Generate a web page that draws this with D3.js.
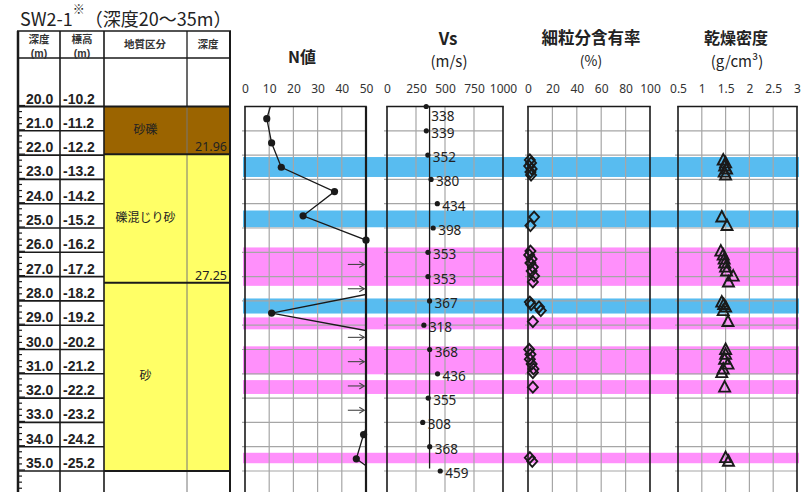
<!DOCTYPE html>
<html><head><meta charset="utf-8">
<script src="https://cdn.jsdelivr.net/npm/d3@7"></script>
<style>
body{margin:0;background:#fff;}
svg{display:block;font-family:"Noto Sans","Noto Sans CJK JP",sans-serif;}
</style>
</head><body><svg id="c" width="805" height="492"></svg>
<script>
// ---------- data ----------
const depthRows = [20,21,22,23,24,25,26,27,28,29,30,31,32,33,34,35];
const elevLabels = ["-10.2","-11.2","-12.2","-13.2","-14.2","-15.2","-16.2","-17.2","-18.2","-19.2","-20.2","-21.2","-22.2","-23.2","-24.2","-25.2"];
const layerNames = ["砂礫","礫混じり砂","砂"];
const layerTops = [20, 21.96, 27.25];
const layerBottoms = [21.96, 27.25, 35];
const layerBottomLabels = ["21.96","27.25",""];
const layerColors = ["#9b6400","#ffff66","#ffff66"];

const bandTops    = [22.08, 24.28, 25.80, 27.90, 28.68, 29.87, 31.26, 34.25];
const bandBottoms = [22.90, 24.97, 27.38, 28.52, 29.17, 31.02, 31.83, 34.68];
const bandTypes   = ["blue","blue","pink","blue","pink","pink","pink","pink"];

const nTicks = [0,10,20,30,40,50];
const vsTicks = [0,250,500,750,1000];
const fcTicks = [0,20,40,60,80,100];
const rhoTicks = [0.5,1,1.5,2,2.5,3];

const nDepths = [19.5,20.5,21.5,22.5,23.5,24.5,25.5,26.5,27.5,28.5,29.5,30.5,31.5,32.5,33.5,34.5,35.5];
const nValues = [12,9,11,15,37,24,50,60,62,11,65,62,60,53,49,46,60];
const nArrowDepths = [26.5,27.5,29.5,30.5,31.5,32.5];

const vsDepths = [20,21,22,23,24,25,26,27,28,29,30,31,32,33,34,35];
const vsValues = [338,339,352,380,434,398,353,353,367,318,368,436,355,308,368,459];
const vsAverage = 367;
const vsAverageRange = [20, 34.9];

const labDepths = [22.20,22.32,22.45,22.57,22.70,22.82,
  24.55,24.90,
  25.95,26.11,26.28,26.44,26.61,26.77,26.98,27.22,
  28.05,28.15,28.25,28.40,
  28.85,
  30.00,30.20,30.40,30.60,30.80,30.95,
  31.55,
  34.45,34.60];
const fcValues = [1.5,2.5,1,3,2,2.5,
  5,2,
  2,1,3,2,4,3,5,4,
  1.5,2.5,9,10.5,
  4,
  1,2,1.5,3,4.5,4,
  4,
  1.5,3.5];
const rhoValues = [1.45,1.50,1.48,1.52,1.47,1.50,
  1.42,1.53,
  1.40,1.45,1.47,1.48,1.50,1.52,1.66,1.56,
  1.42,1.46,1.50,1.45,
  1.55,
  1.50,1.50,1.48,1.55,1.45,1.42,
  1.48,
  1.50,1.56];

// ---------- scales ----------
const svg = d3.select("#c");
const y = d3.scaleLinear().domain([20,35]).range([106.5,471]);
const xN = d3.scaleLinear().domain([0,50]).range([245,366]);
const xVs = d3.scaleLinear().domain([0,1000]).range([387,503]);
const xFc = d3.scaleLinear().domain([0,100]).range([528,650]);
const xRho = d3.scaleLinear().domain([0.5,3]).range([678,797]);
const bottomY = 495;
const ink = "#1a1a1a";

// ---------- title ----------
const title = svg.append("text").attr("x",20).attr("y",26).attr("font-size",18)
  .attr("font-family","'Noto Sans CJK JP',sans-serif").attr("fill","#222");
title.append("tspan").text("SW2-1");
title.append("tspan").attr("font-size",12).attr("dy",-12).text("※");
title.append("tspan").attr("dy",12).text("（深度20～35m）");

// ---------- left table ----------
const T = svg.append("g");
T.selectAll("rect.layer").data(layerNames).join("rect")
  .attr("x",104).attr("width",126)
  .attr("y",(d,i)=>y(layerTops[i])).attr("height",(d,i)=>y(layerBottoms[i])-y(layerTops[i]))
  .attr("fill",(d,i)=>layerColors[i]);
[[18,2.5,ink],[60,1.6,ink],[104,1.6,ink],[187,1,"#777"],[230,2,ink]].forEach(([x,w,c])=>{
  T.append("line").attr("x1",x).attr("x2",x).attr("y1",31).attr("y2",492)
   .attr("stroke",c).attr("stroke-width",w);
});
T.append("line").attr("x1",187).attr("x2",187).attr("y1",31).attr("y2",107).attr("stroke",ink).attr("stroke-width",1);
[[31,1.5],[58,1.5],[y(20),2]].forEach(([yy,w])=>{
  T.append("line").attr("x1",17).attr("x2",231).attr("y1",yy).attr("y2",yy).attr("stroke",ink).attr("stroke-width",w);
});
T.selectAll("line.row").data(depthRows.slice(1)).join("line")
  .attr("x1",18).attr("x2",104).attr("y1",d=>y(d)).attr("y2",d=>y(d))
  .attr("stroke",ink).attr("stroke-width",1.6);
T.selectAll("line.lb").data(layerBottoms).join("line")
  .attr("x1",104).attr("x2",230).attr("y1",d=>y(d)).attr("y2",d=>y(d))
  .attr("stroke",ink).attr("stroke-width",2);
const rulerTicks = d3.range(20,36.01,0.25);
T.selectAll("line.rt").data(rulerTicks).join("line")
  .attr("x1",19).attr("x2",d=>Math.abs(d-Math.round(d))<1e-6?25:22)
  .attr("y1",d=>y(d)-1).attr("y2",d=>y(d)-1).attr("stroke",ink).attr("stroke-width",1.2);
// headers
const hdrJ = [["深度",39,40],["標高",82,40],["地質区分",145,45],["深度",208,45]];
T.selectAll("text.hdr").data(hdrJ).join("text")
  .attr("x",d=>d[1]).attr("y",d=>d[2]).attr("text-anchor","middle").attr("dominant-baseline","middle")
  .attr("font-size",10.5).attr("font-weight","bold").attr("fill","#333")
  .attr("font-family","'Noto Sans CJK JP',sans-serif").text(d=>d[0]);
const hdrU = [["(m)",39],["(m)",82]];
T.selectAll("text.hdu").data(hdrU).join("text")
  .attr("x",d=>d[1]).attr("y",57).attr("text-anchor","middle")
  .attr("font-size",10.5).attr("font-weight","bold").attr("fill","#333")
  .attr("font-family","'Liberation Sans',Arial,sans-serif").text(d=>d[0]);
T.selectAll("text.dl").data(depthRows).join("text")
  .attr("x",26).attr("y",d=>y(d)-3).attr("font-size",14).attr("font-weight","bold")
  .attr("font-family","'Liberation Sans',Arial,sans-serif").attr("fill","#222")
  .text(d=>d.toFixed(1));
T.selectAll("text.el").data(elevLabels).join("text")
  .attr("x",63).attr("y",(d,i)=>y(depthRows[i])-3).attr("font-size",14).attr("font-weight","bold")
  .attr("font-family","'Liberation Sans',Arial,sans-serif").attr("fill","#222")
  .text(d=>d);
T.selectAll("text.ln").data(layerNames).join("text")
  .attr("x",145.5).attr("y",(d,i)=>y((layerTops[i]+layerBottoms[i])/2)).attr("text-anchor","middle")
  .attr("dominant-baseline","middle").attr("font-size",12).attr("fill","#222")
  .attr("font-family","'Noto Sans CJK JP',sans-serif").text(d=>d);
T.selectAll("text.lbl").data(layerBottomLabels).join("text")
  .attr("x",227).attr("y",(d,i)=>y(layerBottoms[i])-3).attr("text-anchor","end")
  .attr("font-size",12.5).attr("fill","#222").attr("font-family","'Noto Sans',sans-serif").text(d=>d);

// ---------- bands ----------
const bandColor = {blue:"#58bcf0", pink:"#ff90fb"};
svg.append("g").selectAll("rect").data(bandTops).join("rect")
  .attr("x",243).attr("width",556)
  .attr("y",d=>y(d)).attr("height",(d,i)=>y(bandBottoms[i])-y(d))
  .attr("fill",(d,i)=>bandColor[bandTypes[i]]);

// ---------- panels ----------
const panels = [
  {sc:xN, ticks:nTicks, fmt:d3.format("d"), rw:2.2},
  {sc:xVs, ticks:vsTicks, fmt:d3.format("d"), rw:1.6},
  {sc:xFc, ticks:fcTicks, fmt:d3.format("d"), rw:1.6},
  {sc:xRho, ticks:rhoTicks, fmt:d=>String(d), rw:1.6}
];
const gridDepths = d3.range(21,36);
panels.forEach(p=>{
  const g = svg.append("g");
  const [x0,x1] = p.sc.range();
  g.selectAll("line.vg").data(p.ticks.slice(1,-1)).join("line")
    .attr("x1",d=>p.sc(d)).attr("x2",d=>p.sc(d)).attr("y1",y(20)).attr("y2",bottomY)
    .attr("stroke","#a6a6a6").attr("stroke-width",1.2);
  g.selectAll("line.hg").data(gridDepths).join("line")
    .attr("x1",x0-3).attr("x2",x1).attr("y1",d=>y(d)).attr("y2",d=>y(d))
    .attr("stroke","#a6a6a6").attr("stroke-width",1.2);
  g.append("line").attr("x1",x0).attr("x2",x0).attr("y1",y(20)).attr("y2",bottomY).attr("stroke",ink).attr("stroke-width",1.6);
  g.append("line").attr("x1",x1).attr("x2",x1).attr("y1",y(20)).attr("y2",bottomY).attr("stroke",ink).attr("stroke-width",p.rw);
  g.append("line").attr("x1",x0-0.8).attr("x2",x1+0.8).attr("y1",y(20)).attr("y2",y(20)).attr("stroke",ink).attr("stroke-width",1.6);
  const ax = svg.append("g").attr("transform","translate(0,96)")
    .call(d3.axisTop(p.sc).tickValues(p.ticks).tickSize(0).tickPadding(3).tickFormat(p.fmt));
  ax.select(".domain").remove();
  ax.selectAll("text").attr("font-size",12).attr("fill","#333").attr("font-family","'Noto Sans',sans-serif");
});

const titles = [
  ["N値",302,58.5,16,"bold"],
  ["Vs",448,40,17,"bold"],["(m/s)",449,62.5,15,"normal"],
  ["細粒分含有率",591,40,16.5,"bold"],["(%)",591,62.5,14,"normal"],
  ["乾燥密度",736,40,16,"bold"],["(g/cm³)",737,62.5,15,"normal"]
];
svg.selectAll("text.pt").data(titles).join("text")
  .attr("x",d=>d[1]).attr("y",d=>d[2]).attr("text-anchor","middle").attr("dominant-baseline","middle")
  .attr("font-size",d=>d[3]).attr("font-weight",d=>d[4]).attr("fill","#222")
  .attr("font-family","'Noto Sans CJK JP',sans-serif").text(d=>d[0]);

// ---------- N value ----------
svg.append("clipPath").attr("id","clipN").append("rect")
  .attr("x",xN(0)).attr("y",y(20)).attr("width",xN(50)-xN(0)+1).attr("height",bottomY-y(20));
const nData = nDepths.map((d,i)=>({d, v:nValues[i]}));
svg.append("path").datum(nData).attr("clip-path","url(#clipN)")
  .attr("d",d3.line().x(p=>xN(p.v)).y(p=>y(p.d)))
  .attr("fill","none").attr("stroke",ink).attr("stroke-width",1.3);
svg.append("g").selectAll("circle").data(nData.filter(p=>p.v<=50 && p.d>=20)).join("circle")
  .attr("cx",p=>xN(p.v)).attr("cy",p=>y(p.d)).attr("r",3.6).attr("fill",ink);
const arr = svg.append("g").attr("stroke","#444").attr("stroke-width",1.1).attr("fill","none");
nArrowDepths.forEach(d=>{
  const yy = y(d), xa = xN(42.5), xb = xN(49.3);
  arr.append("line").attr("x1",xa).attr("x2",xb).attr("y1",yy).attr("y2",yy);
  arr.append("path").attr("d",`M${xb-5},${yy-3}L${xb},${yy}L${xb-5},${yy+3}`);
});

// ---------- Vs ----------
svg.append("line").attr("x1",xVs(vsAverage)).attr("x2",xVs(vsAverage))
  .attr("y1",y(vsAverageRange[0])).attr("y2",y(vsAverageRange[1])).attr("stroke",ink).attr("stroke-width",1.3);
const vsData = vsDepths.map((d,i)=>({d, v:vsValues[i]}));
svg.append("g").selectAll("circle").data(vsData).join("circle")
  .attr("cx",p=>xVs(p.v)).attr("cy",p=>y(p.d)).attr("r",2.6).attr("fill",ink);
svg.append("g").selectAll("text").data(vsData).join("text")
  .attr("x",p=>xVs(p.v)+5).attr("y",p=>Math.max(y(p.d)+7, y(20)+14))
  .attr("font-size",13.5).attr("fill","#222").attr("font-family","'Noto Sans',sans-serif")
  .text(p=>p.v);

// ---------- fines content (diamonds) ----------
const labData = labDepths.map((d,i)=>({d, fc:fcValues[i], rho:rhoValues[i]}));
svg.append("g").selectAll("path").data(labData).join("path")
  .attr("d",p=>{const cx=xFc(p.fc), cy=y(p.d); return `M${cx},${cy-5.5}L${cx+5},${cy}L${cx},${cy+5.5}L${cx-5},${cy}Z`;})
  .attr("fill","none").attr("stroke",ink).attr("stroke-width",1.9);

// ---------- dry density (triangles) ----------
svg.append("g").selectAll("path").data(labData).join("path")
  .attr("d",p=>{const cx=xRho(p.rho), cy=y(p.d); return `M${cx},${cy-6}L${cx+5.5},${cy+4.5}L${cx-5.5},${cy+4.5}Z`;})
  .attr("fill","none").attr("stroke",ink).attr("stroke-width",1.9);
</script>
</body></html>
